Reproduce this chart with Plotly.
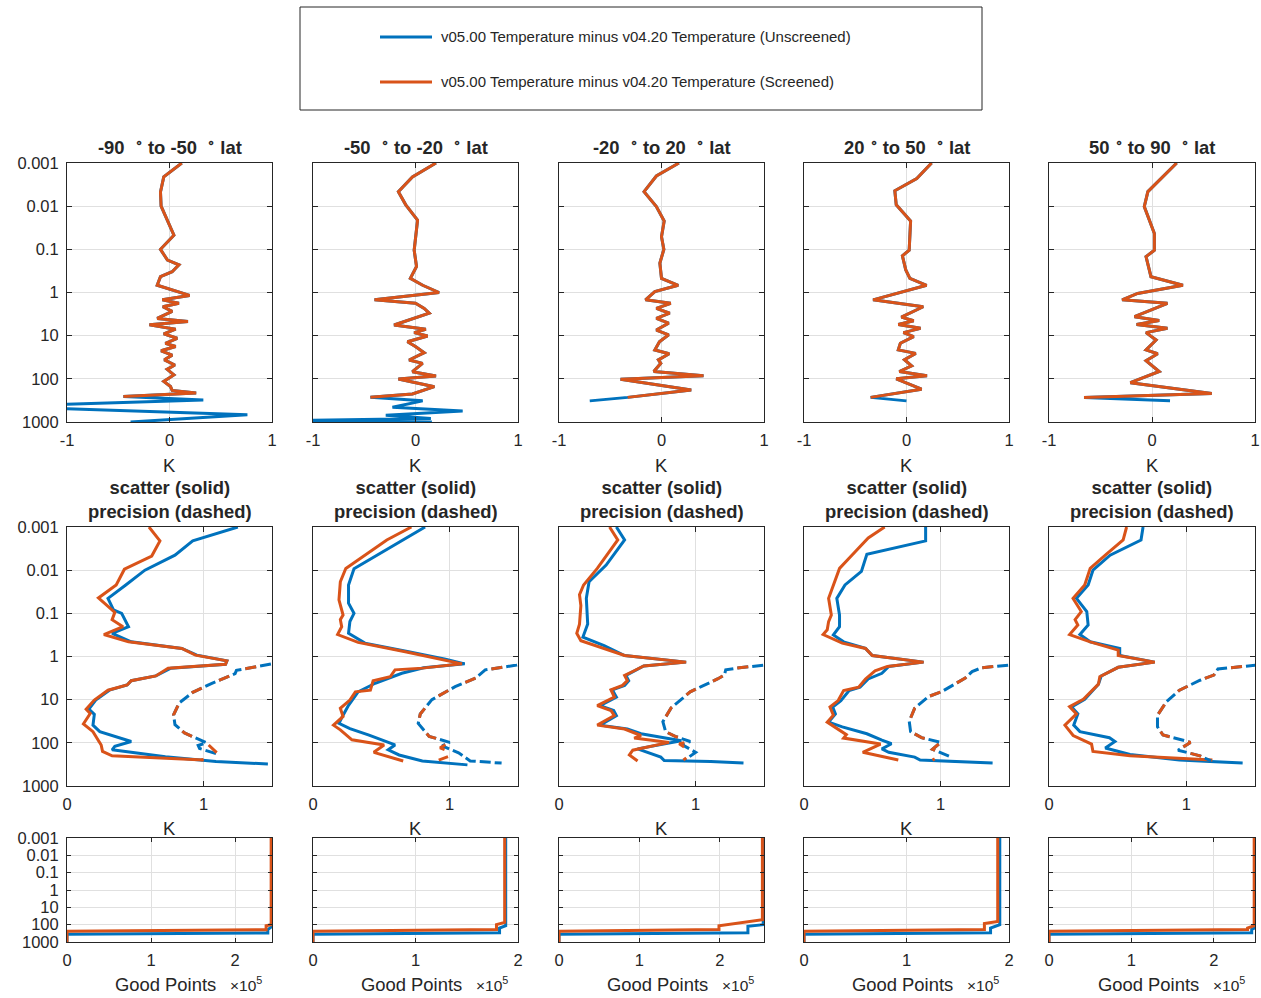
import plotly.graph_objects as go

# ---------------------------------------------------------------- data
LAT_BANDS = ["-90 \u00a0<sup>\u2218</sup> to -50 \u00a0<sup>\u2218</sup> lat",
             "-50 \u00a0<sup>\u2218</sup> to -20 \u00a0<sup>\u2218</sup> lat",
             "-20 \u00a0<sup>\u2218</sup> to 20 \u00a0<sup>\u2218</sup> lat",
             "20 <sup>\u2218</sup> to 50 \u00a0<sup>\u2218</sup> lat",
             "50 <sup>\u2218</sup> to 90 \u00a0<sup>\u2218</sup> lat"]
SERIES_NAMES = ["v05.00 Temperature minus v04.20 Temperature (Unscreened)",
                "v05.00 Temperature minus v04.20 Temperature (Screened)"]
PRESSURE_TICKS = [0.001, 0.01, 0.1, 1, 10, 100, 1000]
PRESSURE_TICK_TEXT = ["0.001", "0.01", "0.1", "1", "10", "100", "1000"]
DIFF_TICKS = [-1, 0, 1]
STD_TICKS = [0, 1]
COUNT_TICKS = [0, 1e5, 2e5]
COUNT_TICK_TEXT = ["0", "1", "2"]

# Row 1: mean difference (K) as (pressure hPa, value); unscreened = screened + tail
DIFF_SCREENED_1 = [(0.001, 0.12), (0.0021, -0.056), (0.0047, -0.088), (0.01, -0.082), (0.047, 0.043),
                   (0.1, -0.088), (0.178, -0.02), (0.229, 0.092), (0.33, 0.026), (0.43, -0.088),
                   (0.68, -0.12), (1.17, 0.196), (1.48, -0.07), (1.78, 0.092), (2.14, -0.065),
                   (2.75, 0.026), (3.98, -0.12), (4.68, 0.18), (5.62, -0.196), (7.08, 0.06),
                   (9.12, -0.056), (11.5, 0.075), (15.1, -0.04), (17.8, 0.06), (22.4, -0.082),
                   (28.2, 0.026), (36.3, -0.05), (47.9, 0.052), (60.3, -0.023), (81.3, 0.043),
                   (115, -0.056), (151, 0.01), (186, 0.026), (214, 0.26), (257, -0.45)]
DIFF_UNSCREENED_TAIL_1 = [(309, 0.33), (405, -1.25), (470, -1.25), (676, 0.76), (1000, -0.38)]

DIFF_SCREENED_2 = [(0.001, 0.2), (0.0021, -0.03), (0.0046, -0.167), (0.0093, -0.095), (0.021, 0.02),
                   (0.105, -0.013), (0.25, 0.01), (0.47, -0.05), (0.68, 0.07), (1.0, 0.23),
                   (1.48, -0.4), (1.78, 0.0), (2.34, 0.085), (3.02, 0.134), (5.66, -0.209),
                   (7.13, 0.101), (8.5, -0.013), (10.2, 0.118), (13.8, -0.078), (18.0, 0.003),
                   (24.8, 0.085), (36.6, -0.062), (43.8, 0.069), (68.2, -0.03), (86.0, 0.2),
                   (101, -0.167), (152, 0.184), (224, -0.03), (268, -0.44)]
DIFF_UNSCREENED_TAIL_2 = [(324, 0.07), (457, -0.225), (556, 0.46), (700, -0.29), (832, 0.15),
                          (915, -1.1), (1000, 0.16)]

DIFF_SCREENED_3 = [(0.001, 0.17), (0.002, -0.05), (0.0046, -0.17), (0.0102, -0.05), (0.022, 0.026),
                   (0.051, 0.0), (0.1, 0.023), (0.209, -0.016), (0.47, 0.0), (0.68, 0.163),
                   (0.95, -0.065), (1.48, -0.156), (1.78, 0.09), (2.34, -0.05), (3.02, 0.08),
                   (3.98, -0.05), (5.13, 0.07), (7.41, -0.05), (9.55, 0.07), (13.8, -0.02),
                   (21.4, -0.065), (26.3, 0.075), (36.3, -0.03), (43.7, -0.007), (67.6, -0.075),
                   (85.1, 0.41), (102, -0.4), (182, 0.29), (269, -0.33)]
DIFF_UNSCREENED_TAIL_3 = [(324, -0.7)]

DIFF_SCREENED_4 = [(0.001, 0.245), (0.0023, 0.1), (0.0044, -0.114), (0.0093, -0.1), (0.022, 0.04),
                   (0.105, 0.026), (0.141, -0.04), (0.30, -0.007), (0.47, 0.033), (0.68, 0.196),
                   (1.48, -0.326), (1.78, -0.065), (2.14, 0.163), (3.72, -0.05), (4.5, 0.07),
                   (5.5, -0.08), (6.76, 0.137), (8.5, -0.03), (10.5, 0.07), (15.0, -0.06),
                   (21.4, -0.08), (25.7, 0.09), (36.0, -0.02), (50.0, 0.05), (67.6, -0.07),
                   (85.1, 0.2), (100, -0.1), (174, 0.147), (269, -0.35)]
DIFF_UNSCREENED_TAIL_4 = [(324, 0.0)]

DIFF_SCREENED_5 = [(0.001, 0.24), (0.0046, -0.04), (0.0102, -0.075), (0.043, 0.023), (0.105, 0.023),
                   (0.148, -0.058), (0.43, -0.01), (0.68, 0.3), (1.05, -0.14), (1.48, -0.29),
                   (1.78, 0.15), (3.63, -0.17), (4.47, 0.07), (5.5, -0.15), (6.76, 0.15),
                   (8.5, -0.058), (12.6, 0.04), (21.4, -0.058), (26.3, 0.055), (38.0, -0.058),
                   (67.6, 0.07), (123, -0.21), (219, 0.58), (269, -0.66)]
DIFF_UNSCREENED_TAIL_5 = [(324, 0.175)]

# Row 2: scatter (solid) and precision (dashed), K
SCATTER_SCREENED_1 = [(0.001, 0.6), (0.0021, 0.68), (0.0047, 0.62), (0.0095, 0.42), (0.022, 0.36),
                      (0.044, 0.23), (0.095, 0.35), (0.14, 0.33), (0.204, 0.41), (0.31, 0.27),
                      (0.457, 0.45), (0.65, 0.84), (0.93, 0.94), (1.26, 1.17), (1.51, 1.16),
                      (1.86, 0.74), (2.82, 0.65), (3.63, 0.47), (4.57, 0.44), (6.03, 0.3),
                      (10.2, 0.2), (16.6, 0.14), (20.9, 0.17), (36.3, 0.12), (55.0, 0.19),
                      (79.4, 0.22), (112, 0.25), (158, 0.26), (200, 0.33), (251, 1.0)]
SCATTER_UNSCREENED_1 = [(0.001, 1.25), (0.0021, 0.92), (0.0045, 0.79), (0.01, 0.57), (0.022, 0.43),
                        (0.045, 0.3), (0.083, 0.34), (0.1, 0.4), (0.204, 0.45), (0.29, 0.33),
                        (0.457, 0.47), (0.65, 0.84), (0.93, 0.95), (1.26, 1.17), (1.51, 1.16),
                        (1.86, 0.76), (2.82, 0.65), (3.63, 0.47), (4.57, 0.44), (6.03, 0.31),
                        (10.2, 0.21), (16.6, 0.16), (21.9, 0.2), (38.9, 0.19), (55.0, 0.24),
                        (93.0, 0.47), (120, 0.35), (145, 0.33), (209, 0.72), (269, 1.09), (309, 1.47)]
PRECISION_SCREENED_1 = [(1.3, 1.6), (1.51, 1.49), (1.74, 1.36), (2.09, 1.24), (2.5, 1.23), (4.17, 1.06),
                        (6.76, 0.92), (12.0, 0.82), (22.4, 0.78), (38.0, 0.79), (58.9, 0.86),
                        (100, 1.02), (186, 1.11), (251, 0.98)]
PRECISION_UNSCREENED_1 = [(1.3, 1.6), (1.51, 1.49), (1.74, 1.36), (2.09, 1.24), (2.5, 1.23), (4.17, 1.06),
                          (6.76, 0.92), (12.0, 0.82), (22.4, 0.78), (38.0, 0.79), (58.9, 0.86),
                          (100, 1.02), (115, 0.96), (135, 0.97), (186, 1.11)]

SCATTER_SCREENED_2 = [(0.001, 0.72), (0.002, 0.54), (0.0091, 0.24), (0.0186, 0.2), (0.049, 0.19),
                      (0.11, 0.22), (0.14, 0.2), (0.204, 0.21), (0.31, 0.18), (0.47, 0.33),
                      (0.78, 0.675), (1.2, 0.97), (1.48, 1.09), (1.86, 0.8), (2.04, 0.6),
                      (2.95, 0.565), (3.63, 0.44), (6.03, 0.42), (6.6, 0.31), (10.2, 0.27),
                      (15.8, 0.2), (24.5, 0.22), (38.9, 0.15), (50.1, 0.2), (85.1, 0.285),
                      (112, 0.52), (166, 0.445), (263, 0.66)]
SCATTER_UNSCREENED_2 = [(0.001, 0.82), (0.0093, 0.3), (0.022, 0.26), (0.058, 0.26), (0.1, 0.3),
                        (0.155, 0.27), (0.29, 0.26), (0.49, 0.38), (0.78, 0.7), (1.15, 0.97),
                        (1.48, 1.11), (1.82, 0.81), (2.45, 0.65), (4.17, 0.455), (6.6, 0.33),
                        (13.5, 0.26), (22.9, 0.22), (35.5, 0.19), (46.8, 0.27), (66.0, 0.41),
                        (112, 0.6), (145, 0.55), (191, 0.63), (263, 0.8), (324, 1.13)]
PRECISION_SCREENED_2 = [(1.3, 1.6), (1.58, 1.49), (2.04, 1.26), (3.16, 1.19), (5.0, 1.04), (10.0, 0.87),
                        (21.4, 0.785), (35.5, 0.77), (70.8, 0.85), (97.7, 1.0), (130, 0.93),
                        (182, 1.04), (251, 0.92)]
PRECISION_UNSCREENED_2 = [(1.3, 1.6), (1.58, 1.49), (2.04, 1.26), (3.16, 1.19), (5.0, 1.04), (10.0, 0.87),
                          (21.4, 0.785), (35.5, 0.77), (70.8, 0.85), (97.7, 1.0), (117, 0.945),
                          (170, 1.065), (263, 1.15), (295, 1.38)]

SCATTER_SCREENED_3 = [(0.001, 0.37), (0.002, 0.43), (0.0091, 0.28), (0.022, 0.18), (0.037, 0.15),
                      (0.066, 0.16), (0.178, 0.15), (0.29, 0.13), (0.43, 0.16), (0.65, 0.33),
                      (0.95, 0.48), (1.35, 0.93), (1.66, 0.62), (2.14, 0.55), (2.75, 0.48),
                      (3.63, 0.5), (4.68, 0.465), (5.89, 0.38), (8.7, 0.405), (13.8, 0.28),
                      (17.8, 0.38), (23.4, 0.405), (38.9, 0.28), (47.9, 0.48), (67.6, 0.6),
                      (77.6, 0.55), (97.7, 0.805), (148, 0.54), (191, 0.515), (263, 0.575)]
SCATTER_UNSCREENED_3 = [(0.001, 0.42), (0.002, 0.48), (0.0076, 0.345), (0.0186, 0.22), (0.045, 0.2),
                        (0.178, 0.21), (0.355, 0.175), (0.56, 0.33), (0.95, 0.48), (1.35, 0.93),
                        (1.66, 0.62), (2.14, 0.56), (2.75, 0.49), (3.63, 0.51), (4.68, 0.48),
                        (5.89, 0.39), (8.7, 0.42), (13.8, 0.3), (17.8, 0.4), (23.4, 0.42),
                        (38.9, 0.3), (47.9, 0.5), (61.7, 0.6), (89.1, 0.895), (138, 0.575),
                        (214, 0.745), (257, 0.77), (269, 1.11), (295, 1.35)]
PRECISION_SCREENED_3 = [(1.3, 1.6), (1.58, 1.5), (1.86, 1.3), (2.04, 1.22), (2.69, 1.21), (3.31, 1.16),
                        (5.0, 1.04), (6.6, 0.96), (15.5, 0.82), (32.4, 0.76), (55.0, 0.78),
                        (70.8, 0.85), (93.3, 0.96), (105, 0.88), (170, 0.98), (251, 0.91)]
PRECISION_UNSCREENED_3 = [(1.3, 1.6), (1.58, 1.5), (1.86, 1.3), (2.04, 1.22), (2.69, 1.21), (3.31, 1.16),
                          (5.0, 1.04), (6.6, 0.96), (15.5, 0.82), (32.4, 0.76), (55.0, 0.78),
                          (70.8, 0.85), (93.3, 0.96), (110, 0.9), (166, 1.0), (263, 0.91)]

SCATTER_SCREENED_4 = [(0.001, 0.59), (0.0018, 0.47), (0.0049, 0.34), (0.0091, 0.26), (0.045, 0.18),
                      (0.11, 0.2), (0.155, 0.18), (0.24, 0.17), (0.31, 0.14), (0.49, 0.28),
                      (0.65, 0.45), (0.95, 0.5), (1.35, 0.875), (1.7, 0.61), (2.14, 0.52),
                      (3.31, 0.45), (5.13, 0.4), (6.17, 0.29), (10.5, 0.25), (14.8, 0.19),
                      (22.9, 0.215), (33.1, 0.17), (64.6, 0.31), (77.6, 0.29), (107, 0.56),
                      (166, 0.43), (251, 0.69)]
SCATTER_UNSCREENED_4 = [(0.001, 0.89), (0.0021, 0.89), (0.0043, 0.46), (0.0107, 0.42), (0.022, 0.3),
                        (0.045, 0.24), (0.11, 0.26), (0.204, 0.26), (0.316, 0.215), (0.457, 0.29),
                        (0.65, 0.45), (0.95, 0.5), (1.35, 0.875), (1.7, 0.62), (2.45, 0.57),
                        (3.31, 0.47), (5.13, 0.41), (6.17, 0.33), (10.5, 0.27), (14.8, 0.21),
                        (21.4, 0.23), (33.1, 0.18), (42.7, 0.28), (61.7, 0.46), (87.0, 0.57),
                        (105, 0.64), (138, 0.57), (166, 0.62), (214, 0.81), (251, 0.85), (295, 1.38)]
PRECISION_SCREENED_4 = [(1.3, 1.6), (1.58, 1.5), (1.82, 1.3), (2.24, 1.23), (3.16, 1.18), (6.46, 1.01),
                        (8.5, 0.91), (15.8, 0.81), (31.6, 0.77), (55.0, 0.78), (75.9, 0.86),
                        (97.7, 1.0), (141, 0.94), (182, 1.02), (251, 0.94)]
PRECISION_UNSCREENED_4 = [(1.3, 1.6), (1.58, 1.5), (1.82, 1.3), (2.24, 1.23), (3.16, 1.18), (6.46, 1.01),
                          (8.5, 0.91), (15.8, 0.81), (31.6, 0.77), (55.0, 0.78), (75.9, 0.86),
                          (97.7, 1.0), (141, 0.94), (178, 1.02), (209, 1.07)]

SCATTER_SCREENED_5 = [(0.001, 0.565), (0.002, 0.54), (0.0045, 0.41), (0.0091, 0.3), (0.022, 0.26),
                      (0.045, 0.175), (0.091, 0.235), (0.14, 0.19), (0.186, 0.21), (0.31, 0.15),
                      (0.457, 0.3), (0.71, 0.504), (0.95, 0.504), (1.35, 0.77), (1.78, 0.504),
                      (2.95, 0.37), (4.37, 0.36), (9.77, 0.25), (14.5, 0.15), (21.4, 0.2),
                      (38.9, 0.116), (67.6, 0.176), (107, 0.31), (158, 0.32), (200, 0.59), (251, 1.19)]
SCATTER_UNSCREENED_5 = [(0.001, 0.685), (0.002, 0.67), (0.0045, 0.445), (0.01, 0.32), (0.022, 0.285),
                        (0.045, 0.2), (0.091, 0.275), (0.186, 0.285), (0.31, 0.225), (0.457, 0.3),
                        (0.65, 0.515), (0.95, 0.515), (1.35, 0.77), (1.78, 0.504), (2.82, 0.38),
                        (4.37, 0.36), (9.77, 0.26), (14.8, 0.165), (21.4, 0.21), (38.9, 0.18),
                        (55.0, 0.225), (75.9, 0.44), (93.3, 0.48), (132, 0.41), (186, 0.59),
                        (251, 0.95), (295, 1.41)]
PRECISION_SCREENED_5 = [(1.3, 1.62), (1.58, 1.51), (1.95, 1.23), (2.69, 1.2), (3.55, 1.1), (6.03, 0.95),
                        (11.2, 0.855), (22.9, 0.79), (42.7, 0.79), (66.0, 0.83), (91.2, 1.0),
                        (97.7, 1.03), (148, 0.94), (200, 1.1), (263, 1.18)]
PRECISION_UNSCREENED_5 = [(1.3, 1.62), (1.58, 1.51), (1.95, 1.23), (2.69, 1.2), (3.55, 1.1), (6.03, 0.95),
                          (11.2, 0.855), (22.9, 0.79), (42.7, 0.79), (66.0, 0.83), (91.2, 1.0),
                          (97.7, 1.03), (148, 0.94), (200, 1.1), (263, 1.18)]

# Row 3: good points per level (pressure hPa, count)
COUNT_SCREENED_1 = [(0.001, 2.43e5), (100, 2.43e5), (115, 2.37e5), (195, 2.37e5), (240, 0), (1000, 0)]
COUNT_UNSCREENED_1 = [(0.001, 2.44e5), (126, 2.44e5), (195, 2.39e5), (302, 2.39e5), (355, 0), (1000, 0)]
COUNT_SCREENED_2 = [(0.001, 1.87e5), (74, 1.87e5), (100, 1.79e5), (191, 1.79e5), (240, 0), (1000, 0)]
COUNT_UNSCREENED_2 = [(0.001, 1.88e5), (115, 1.88e5), (155, 1.82e5), (295, 1.82e5), (355, 0), (1000, 0)]
COUNT_SCREENED_3 = [(0.001, 2.53e5), (52, 2.53e5), (115, 1.99e5), (191, 1.99e5), (240, 0), (1000, 0)]
COUNT_UNSCREENED_3 = [(0.001, 2.54e5), (100, 2.54e5), (123, 2.35e5), (295, 2.35e5), (355, 0), (1000, 0)]
COUNT_SCREENED_4 = [(0.001, 1.89e5), (65, 1.89e5), (87, 1.76e5), (191, 1.76e5), (240, 0), (1000, 0)]
COUNT_UNSCREENED_4 = [(0.001, 1.91e5), (100, 1.91e5), (155, 1.82e5), (295, 1.82e5), (355, 0), (1000, 0)]
COUNT_SCREENED_5 = [(0.001, 2.49e5), (115, 2.49e5), (155, 2.41e5), (191, 2.41e5), (240, 0), (1000, 0)]
COUNT_UNSCREENED_5 = [(0.001, 2.5e5), (155, 2.5e5), (190, 2.46e5), (295, 2.46e5), (355, 0), (1000, 0)]

DIFF_SCREENED = [DIFF_SCREENED_1, DIFF_SCREENED_2, DIFF_SCREENED_3, DIFF_SCREENED_4, DIFF_SCREENED_5]
DIFF_TAILS = [DIFF_UNSCREENED_TAIL_1, DIFF_UNSCREENED_TAIL_2, DIFF_UNSCREENED_TAIL_3,
              DIFF_UNSCREENED_TAIL_4, DIFF_UNSCREENED_TAIL_5]
SCAT_S = [SCATTER_SCREENED_1, SCATTER_SCREENED_2, SCATTER_SCREENED_3, SCATTER_SCREENED_4, SCATTER_SCREENED_5]
SCAT_U = [SCATTER_UNSCREENED_1, SCATTER_UNSCREENED_2, SCATTER_UNSCREENED_3, SCATTER_UNSCREENED_4,
          SCATTER_UNSCREENED_5]
PREC_S = [PRECISION_SCREENED_1, PRECISION_SCREENED_2, PRECISION_SCREENED_3, PRECISION_SCREENED_4,
          PRECISION_SCREENED_5]
PREC_U = [PRECISION_UNSCREENED_1, PRECISION_UNSCREENED_2, PRECISION_UNSCREENED_3, PRECISION_UNSCREENED_4,
          PRECISION_UNSCREENED_5]
CNT_S = [COUNT_SCREENED_1, COUNT_SCREENED_2, COUNT_SCREENED_3, COUNT_SCREENED_4, COUNT_SCREENED_5]
CNT_U = [COUNT_UNSCREENED_1, COUNT_UNSCREENED_2, COUNT_UNSCREENED_3, COUNT_UNSCREENED_4, COUNT_UNSCREENED_5]

# ---------------------------------------------------------------- style / layout
W, H = 1261, 998
BLUE = "#0072BD"
ORANGE = "#D95319"
INK = "#262626"
GRID = "#e0e0e0"
FONT = "Liberation Sans, Arial, Helvetica, sans-serif"
TICK_SIZE = 16.5
LABEL_SIZE = 18.4
COL_PX = [(67, 272), (313, 518), (559, 764), (804, 1009), (1049, 1255)]
ROW_PX = [(163, 422), (527, 786), (838, 942)]
COUNT_RANGE = [2.44e5, 2.0e5, 2.55e5, 2.0e5, 2.5e5]
LW = 3


def fx(px):
    return px / W


def fy(py):
    return 1 - py / H


def split(pairs):
    return [v for _, v in pairs], [p for p, _ in pairs]


fig = go.Figure()
layout = dict(width=W, height=H, paper_bgcolor="white", plot_bgcolor="white",
              margin=dict(l=0, r=0, t=0, b=0, pad=0, autoexpand=False), showlegend=False,
              font=dict(family=FONT, color=INK, size=TICK_SIZE))
annotations = []
shapes = []


def add_line(k, pairs, color, dash="solid"):
    x, y = split(pairs)
    fig.add_trace(go.Scatter(x=x, y=y, mode="lines", xaxis=f"x{k}", yaxis=f"y{k}",
                             line=dict(color=color, width=LW, dash=dash),
                             hoverinfo="skip"))


def ann(text, xpx, ypx, size, xanchor="center", yanchor="middle", color=INK):
    annotations.append(dict(text=text, x=fx(xpx), y=fy(ypx), xref="paper", yref="paper",
                            showarrow=False, xanchor=xanchor, yanchor=yanchor,
                            font=dict(size=size, color=color, family=FONT)))


for r in range(3):
    for c in range(5):
        k = r * 5 + c + 1
        xa = "xaxis" if k == 1 else f"xaxis{k}"
        ya = "yaxis" if k == 1 else f"yaxis{k}"
        x0, x1 = COL_PX[c]
        y0, y1 = ROW_PX[r]
        common = dict(showline=True, linecolor=INK, linewidth=1, mirror="ticks", automargin=False,
                      ticks="inside", ticklen=5 if r < 2 else 4, tickcolor=INK, tickwidth=1,
                      showgrid=True, gridcolor=GRID, gridwidth=1, zeroline=False,
                      tickfont=dict(size=TICK_SIZE, color=INK, family=FONT))
        if r == 0:
            xcfg = dict(range=[-1, 1], tickvals=DIFF_TICKS, ticktext=["-1", "0", "1"])
        elif r == 1:
            xcfg = dict(range=[0, 1.5], tickvals=STD_TICKS, ticktext=["0", "1"])
        else:
            xcfg = dict(range=[0, COUNT_RANGE[c]], tickvals=COUNT_TICKS, ticktext=COUNT_TICK_TEXT)
        layout[xa] = dict(domain=[fx(x0), fx(x1)], anchor=f"y{k}", ticklabelstandoff=3,
                          **xcfg, **common)
        layout[ya] = dict(domain=[fy(y1), fy(y0)], anchor=f"x{k}", type="log", range=[3, -3],
                          tickvals=PRESSURE_TICKS, ticktext=PRESSURE_TICK_TEXT,
                          showticklabels=(c == 0), ticklabelstandoff=4, **common)

        cx = (x0 + x1) / 2
        if r == 0:
            su = DIFF_SCREENED[c] + DIFF_TAILS[c]
            add_line(k, su, BLUE)
            add_line(k, DIFF_SCREENED[c], ORANGE)
            ann("<b>" + LAT_BANDS[c] + "</b>", cx, 146, LABEL_SIZE)
            ann("K", cx, 465, LABEL_SIZE)
        elif r == 1:
            add_line(k, SCAT_U[c], BLUE)
            add_line(k, SCAT_S[c], ORANGE)
            add_line(k, PREC_U[c], BLUE, dash="11px,4px")
            add_line(k, PREC_S[c], ORANGE, dash="11px,19px")
            ann("<b>scatter (solid)<br>precision (dashed)</b>", cx, 499, LABEL_SIZE)
            ann("K", cx, 828, LABEL_SIZE)
        else:
            add_line(k, CNT_U[c], BLUE)
            add_line(k, CNT_S[c], ORANGE)
            ann("Good Points", cx - 4, 984, LABEL_SIZE)
            ann("\u00d710<sup>5</sup>", x1 - 8, 984, 15.5, xanchor="right")

# legend box (drawn as shapes + text, like the MATLAB legend)
shapes.append(dict(type="rect", xref="paper", yref="paper", x0=fx(300), x1=fx(982), y0=fy(110), y1=fy(7),
                   line=dict(color=INK, width=1), fillcolor="white", layer="below"))
for name, color, ypx in [(SERIES_NAMES[0], BLUE, 37), (SERIES_NAMES[1], ORANGE, 82)]:
    shapes.append(dict(type="line", xref="paper", yref="paper", x0=fx(380), x1=fx(432), y0=fy(ypx), y1=fy(ypx),
                       line=dict(color=color, width=LW)))
    ann(name, 439, ypx, 15, xanchor="left")

layout["annotations"] = annotations
layout["shapes"] = shapes
fig.update_layout(**layout)
fig.write_html("out.html", config={"displayModeBar": False},
               post_script="document.body.style.margin='0px';")
